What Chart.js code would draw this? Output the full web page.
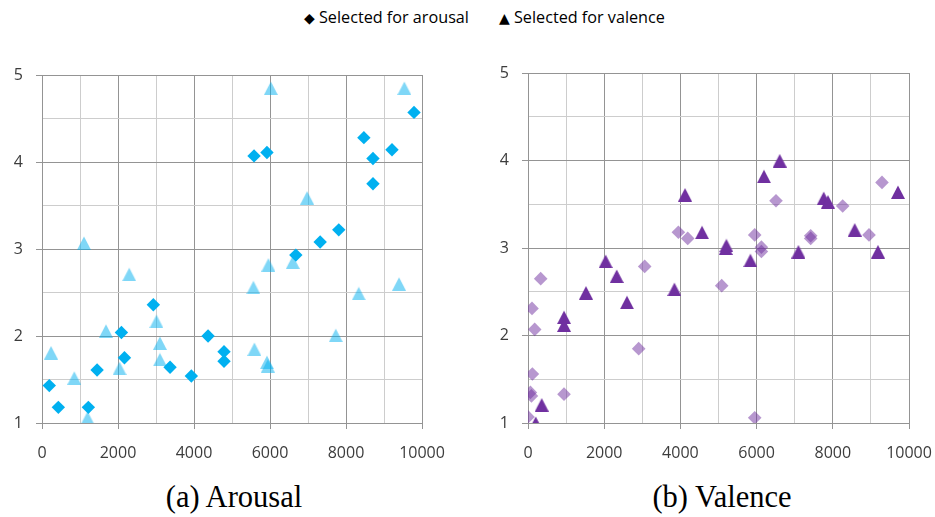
<html>

<head>
    <script src="https://cdn.jsdelivr.net/npm/chart.js"></script>
    <style>
        body { margin: 0; background: #fff; width: 935px; height: 517px; position: relative; overflow: hidden; }
        .box { position: absolute; top: 60px; height: 400px; }
        .legend { position: absolute; top: 6px; font-family: 'Open Sans', sans-serif; font-size: 16.2px; color: #000; white-space: nowrap; }
        .legend span { font-family: 'DejaVu Sans', sans-serif; font-size: 14px; }
        .caption { position: absolute; top: 480px; font-family: 'Liberation Serif', serif; font-size: 30.5px; color: #000; white-space: nowrap; transform: translateX(-50%); }
    </style>
</head>

<body>
    <div class="legend" style="left:304px"><span>&#9670;</span> Selected for arousal</div>
    <div class="legend" style="left:499px"><span>&#9650;</span> Selected for valence</div>

    <div class="box" style="left:0px; width:467px;"><canvas id="arousal" width="467" height="400"></canvas></div>
    <div class="box" style="left:467px; width:468px;"><canvas id="valence" width="468" height="400"></canvas></div>

    <div class="caption" style="left:234px">(a) Arousal</div>
    <div class="caption" style="left:722px">(b) Valence</div>

    <script>
        // (a) Arousal chart
        var aro_sel_arousal_x = [192, 430, 1220, 1450, 2090, 2170, 2930, 3370, 3930, 4370, 4790, 4790, 5580, 5920, 6680, 7320, 7810, 8470, 8710, 8710, 9210, 9790];
        var aro_sel_arousal_y = [1.43, 1.18, 1.18, 1.61, 2.04, 1.75, 2.36, 1.64, 1.54, 2.00, 1.82, 1.71, 4.07, 4.11, 2.93, 3.08, 3.22, 4.28, 4.04, 3.75, 4.14, 4.57];
        var aro_sel_valence_x = [237, 849, 1104, 1199, 1683, 2040, 2296, 3013, 3103, 3103, 5564, 5590, 5920, 5943, 6022, 5958, 6600, 6976, 7731, 8335, 9395, 9535];
        var aro_sel_valence_y = [1.81, 1.52, 3.07, 1.06, 2.06, 1.63, 2.71, 2.17, 1.92, 1.73, 2.56, 1.85, 1.70, 1.66, 4.85, 2.82, 2.85, 3.59, 2.01, 2.49, 2.60, 4.85];

        // (b) Valence chart
        var val_sel_valence_x = [202, 360, 945, 945, 1522, 2039, 2328, 2598, 3843, 4121, 4567, 5189, 5207, 5837, 6194, 6606, 7097, 7761, 7874, 8575, 9186, 9711];
        var val_sel_valence_y = [1.00, 1.21, 2.21, 2.12, 2.49, 2.85, 2.68, 2.38, 2.53, 3.61, 3.18, 3.00, 3.03, 2.86, 3.82, 4.00, 2.96, 3.57, 3.53, 3.21, 2.96, 3.64];
        var val_sel_arousal_x = [0, 63, 90, 105, 115, 176, 333, 945, 2905, 3063, 3947, 4192, 5084, 5950, 5950, 6126, 6126, 6509, 7420, 7420, 8260, 8950, 9291];
        var val_sel_arousal_y = [1.07, 1.35, 1.31, 2.31, 1.56, 2.07, 2.65, 1.33, 1.85, 2.79, 3.18, 3.11, 2.57, 3.15, 1.06, 3.01, 2.96, 3.54, 3.14, 3.11, 3.48, 3.15, 3.75];

        var x_ticks = [0, 2000, 4000, 6000, 8000, 10000];
        var y_ticks = [1, 2, 3, 4, 5];

        function toPoints(xs, ys) {
            return xs.map(function(x, i) {
                return { x: x, y: ys[i] };
            });
        }

        // excel style triangle, centred on its box
        function triangleMarker(color) {
            var c = document.createElement('canvas');
            c.width = 14;
            c.height = 14;
            var ctx = c.getContext('2d');
            ctx.fillStyle = color;
            ctx.beginPath();
            ctx.moveTo(7, 0.5);
            ctx.lineTo(14, 14);
            ctx.lineTo(0, 14);
            ctx.closePath();
            ctx.fill();
            return c;
        }

        function makeScales(yWidth) {
            return {
                x: {
                    type: 'linear',
                    min: 0,
                    max: 10000,
                    afterFit: function(scale) {
                        scale.height = 37;
                        scale.paddingLeft = 0;
                        scale.paddingRight = 0;
                    },
                    afterBuildTicks: function(scale) {
                        var t = [];
                        for (var v = 0; v <= 10000; v += 1000) t.push({ value: v });
                        scale.ticks = t;
                    },
                    ticks: {
                        autoSkip: false,
                        maxRotation: 0,
                        padding: 15,
                        color: '#3c3c3c',
                        font: { family: 'Open Sans', size: 16 },
                        callback: function(v) { return x_ticks.indexOf(v) >= 0 ? String(v) : ''; }
                    },
                    grid: {
                        color: function(c) { return c.tick && c.tick.value % 2000 === 0 ? '#949494' : '#cdcdcd'; },
                        tickColor: function(c) { return c.tick && c.tick.value % 2000 === 0 ? '#949494' : 'rgba(0,0,0,0)'; },
                        tickLength: 6,
                        lineWidth: 1
                    },
                    border: { color: '#949494', width: 1 }
                },
                y: {
                    type: 'linear',
                    min: 1,
                    max: 5,
                    afterFit: function(scale) {
                        scale.width = yWidth;
                        scale.paddingTop = 0;
                        scale.paddingBottom = 0;
                    },
                    afterBuildTicks: function(scale) {
                        var t = [];
                        for (var v = 1; v <= 5; v += 0.5) t.push({ value: v });
                        scale.ticks = t;
                    },
                    ticks: {
                        autoSkip: false,
                        padding: 13,
                        color: '#3c3c3c',
                        font: { family: 'Open Sans', size: 16 },
                        callback: function(v) { return y_ticks.indexOf(v) >= 0 ? String(v) : ''; }
                    },
                    grid: {
                        color: function(c) { return c.tick && c.tick.value % 1 === 0 ? '#949494' : '#cdcdcd'; },
                        tickColor: function(c) { return c.tick && c.tick.value % 1 === 0 ? '#949494' : 'rgba(0,0,0,0)'; },
                        tickLength: 6,
                        lineWidth: 1
                    },
                    border: { color: '#949494', width: 1 }
                }
            };
        }

        function createChart(metaID, datasets, yWidth, padding) {
            var ctx = document.getElementById(metaID).getContext('2d');
            return new Chart(ctx, {
                type: 'scatter',
                data: { datasets: datasets },
                options: {
                    responsive: false,
                    animation: false,
                    layout: { padding: padding },
                    plugins: { legend: { display: false }, tooltip: { enabled: false } },
                    scales: makeScales(yWidth)
                }
            });
        }

        createChart('arousal', [{
            label: 'Selected for arousal',
            data: toPoints(aro_sel_arousal_x, aro_sel_arousal_y),
            pointStyle: 'rectRot',
            pointRadius: 6.7,
            backgroundColor: '#00b0f0',
            borderWidth: 0
        }, {
            label: 'Selected for valence',
            data: toPoints(aro_sel_valence_x, aro_sel_valence_y),
            pointStyle: triangleMarker('rgba(0,176,240,0.5)'),
            pointRadius: 7,
            backgroundColor: 'rgba(0,176,240,0.5)',
            borderWidth: 0
        }], 42, { top: 15, right: 45, bottom: 0, left: 0 });

        createChart('valence', [{
            label: 'Selected for valence',
            data: toPoints(val_sel_valence_x, val_sel_valence_y),
            pointStyle: triangleMarker('#7030a0'),
            pointRadius: 7,
            backgroundColor: '#7030a0',
            borderWidth: 0
        }, {
            label: 'Selected for arousal',
            data: toPoints(val_sel_arousal_x, val_sel_arousal_y),
            pointStyle: 'rectRot',
            pointRadius: 6.8,
            backgroundColor: 'rgba(112,48,160,0.5)',
            borderWidth: 0
        }], 61, { top: 13, right: 26, bottom: 0, left: 0 });
    </script>

</body>

</html>
